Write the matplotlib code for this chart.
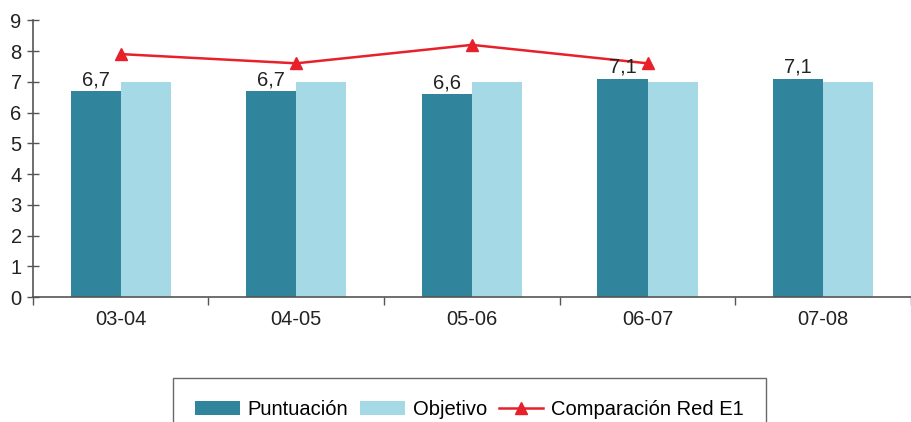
import numpy as np
import matplotlib.pyplot as plt

plt.rcParams['font.family'] = ['Liberation Sans', 'DejaVu Sans']

cursos = ["03-04", "04-05", "05-06", "06-07", "07-08"]
puntuacion = [6.7, 6.7, 6.6, 7.1, 7.1]
objetivo = [7.0, 7.0, 7.0, 7.0, 7.0]
red_e1 = [7.9, 7.6, 8.2, 7.6]
etiquetas = ["6,7", "6,7", "6,6", "7,1", "7,1"]

fig = plt.figure(figsize=(9.11, 4.22), dpi=100)
ax = fig.add_axes([0.036, 0.296, 0.964, 0.656])

x = np.arange(len(cursos))
w = 0.285
b1 = ax.bar(x - w / 2, puntuacion, w, color="#30849c", label="Puntuación")
b2 = ax.bar(x + w / 2, objetivo, w, color="#a6d9e6", label="Objetivo")
ln, = ax.plot(x[:len(red_e1)], red_e1, color="#e8202a", lw=1.8, marker="^", ms=9,
              label="Comparación Red E1")

for xi, v, t in zip(x, puntuacion, etiquetas):
    ax.text(xi - w / 2, v + 0.06, t, ha="center", va="bottom", fontsize=14.5, color="#222222")

ax.set_xlim(-0.5, 4.5)
ax.set_ylim(0, 9)
ax.set_yticks(range(10))
ax.set_xticks(x)
ax.set_xticklabels(cursos)
ax.set_xticks(np.arange(-0.5, 4.6, 1), minor=True)
ax.tick_params(axis="x", which="major", length=0, labelsize=14.5, pad=9, colors="#222222")
ax.tick_params(axis="x", which="minor", length=6, direction="out", color="#555555", width=1)
ax.tick_params(axis="y", length=8, direction="inout", labelsize=14.5, colors="#222222",
               color="#555555", width=1, pad=4)
for s in ["top", "right"]:
    ax.spines[s].set_visible(False)
for s in ["left", "bottom"]:
    ax.spines[s].set_color("#555555")
    ax.spines[s].set_linewidth(1.2)

leg = fig.legend(handles=[b1, b2, ln], loc="upper left", bbox_to_anchor=(0.19, 0.105),
                 ncol=3, fontsize=14.5, frameon=True, fancybox=False, handlelength=2.2,
                 handletextpad=0.4, columnspacing=0.6, borderpad=1.1, borderaxespad=0)
leg.get_frame().set_edgecolor("#444444")
leg.get_frame().set_linewidth(1)

fig.savefig("out.png", dpi=100)
